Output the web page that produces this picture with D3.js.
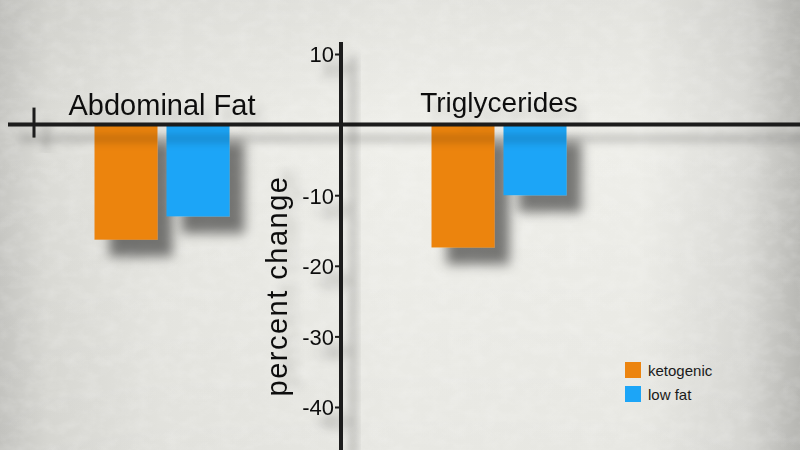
<!DOCTYPE html>
<html>
<head>
<meta charset="utf-8">
<script src="https://cdn.jsdelivr.net/npm/d3@7"></script>
<style>
  body { margin: 0; overflow: hidden; }
  svg { display: block; font-family: "Liberation Sans", Arial, sans-serif; }
</style>
</head>
<body>
<div id="chart"></div>
<script>
// Data
var categories = ["Abdominal Fat", "Triglycerides"];
var series = ["ketogenic", "low fat"];
var ketogenic = [-16.3, -17.4];
var lowFat = [-13.0, -10.0];
var yTicks = [10, -10, -20, -30, -40];
var colors = ["#ec840f", "#1ca5f7"];

var width = 800;
var height = 450;

var svg = d3.select("#chart")
    .append("svg")
    .attr("width", width)
    .attr("height", height);

var defs = svg.append("defs");

// background gradient
var bg = defs.append("linearGradient").attr("id", "bgGrad");
[[0, "#c8c8c4"], [0.06, "#dcdcd7"], [0.2, "#e8e8e3"], [0.5, "#efefea"],
 [0.8, "#eeeee9"], [0.93, "#dcdcd8"], [1, "#bbbbb7"]].forEach(function(s){
    bg.append("stop").attr("offset", s[0]).attr("stop-color", s[1]);
});
var vg = defs.append("linearGradient").attr("id", "vGrad")
    .attr("x1", 0).attr("y1", 0).attr("x2", 0).attr("y2", 1);
vg.append("stop").attr("offset", 0).attr("stop-color", "#000").attr("stop-opacity", 0.05);
vg.append("stop").attr("offset", 0.3).attr("stop-color", "#000").attr("stop-opacity", 0);
vg.append("stop").attr("offset", 1).attr("stop-color", "#000").attr("stop-opacity", 0.03);

// paper texture
var tex = defs.append("filter").attr("id", "tex");
tex.append("feTurbulence").attr("type", "fractalNoise")
    .attr("baseFrequency", "0.06 0.09").attr("numOctaves", 3).attr("seed", 4);
tex.append("feColorMatrix").attr("type", "matrix")
    .attr("values", "0 0 0 0 1  0 0 0 0 1  0 0 0 0 1  0 0 0 -1.2 0.75");

// drop shadows
function shadow(id, dx, dy, sd, op) {
    var f = defs.append("filter").attr("id", id)
        .attr("x", "-50%").attr("y", "-50%").attr("width", "200%").attr("height", "200%");
    f.append("feDropShadow").attr("dx", dx).attr("dy", dy)
        .attr("stdDeviation", sd).attr("flood-color", "#000").attr("flood-opacity", op);
}
shadow("barShadow", 15, 17, 6, 0.5);
shadow("lineShadow", 12, 14, 5, 0.35);
shadow("textShadow", 8, 10, 4, 0.15);

svg.append("rect").attr("width", width).attr("height", height).attr("fill", "url(#bgGrad)");
svg.append("rect").attr("width", width).attr("height", height).attr("fill", "url(#vGrad)");
svg.append("rect").attr("width", width).attr("height", height)
    .attr("filter", "url(#tex)").attr("opacity", 0.25);

// scales
var y = d3.scaleLinear().domain([-40, 10]).range([407, 54]);
var xGroup = d3.scalePoint().domain(categories).range([162, 499]);
var xInner = d3.scaleBand().domain(series).range([-67.5, 67.5]).paddingInner(0.125);
var color = d3.scaleOrdinal().domain(series).range(colors);

var rows = categories.map(function(c, i){
    return { cat: c, values: [
        { s: series[0], v: ketogenic[i] },
        { s: series[1], v: lowFat[i] }
    ]};
});

var axisX = 341;

// bars
var groups = svg.selectAll("g.grp").data(rows).enter().append("g")
    .attr("class", "grp")
    .attr("transform", function(d){ return "translate(" + xGroup(d.cat) + ",0)"; });

groups.selectAll("rect").data(function(d){ return d.values; }).enter().append("rect")
    .attr("x", function(d){ return xInner(d.s); })
    .attr("width", xInner.bandwidth())
    .attr("y", function(d){ return y(Math.max(0, d.v)); })
    .attr("height", function(d){ return Math.abs(y(d.v) - y(0)); })
    .attr("fill", function(d){ return color(d.s); })
    .attr("filter", "url(#barShadow)");

// category labels
groups.append("text")
    .attr("x", 0)
    .attr("y", function(d, i){ return i === 0 ? y(0) - 10 : y(0) - 13; })
    .attr("text-anchor", "middle")
    .attr("font-size", function(d, i){ return i === 0 ? 29 : 28; })
    .attr("fill", "#111")
    .attr("filter", "url(#textShadow)")
    .text(function(d){ return d.cat; });

// horizontal zero line
var lines = svg.append("g").attr("filter", "url(#lineShadow)");
lines.append("line")
    .attr("x1", 8).attr("x2", width)
    .attr("y1", y(0)).attr("y2", y(0))
    .attr("stroke", "#1c1c1a").attr("stroke-width", 4);
lines.append("line")
    .attr("x1", 34).attr("x2", 34)
    .attr("y1", y(0) - 17).attr("y2", y(0) + 13)
    .attr("stroke", "#1c1c1a").attr("stroke-width", 3);

// y axis
var yAxis = d3.axisLeft(y).tickValues(yTicks).tickSize(6).tickPadding(1)
    .tickFormat(function(d){ return String(d); });
var gy = svg.append("g")
    .attr("transform", "translate(" + axisX + ",0)")
    .attr("filter", "url(#lineShadow)")
    .call(yAxis);
gy.select(".domain").remove();
gy.selectAll(".tick line").attr("stroke", "#1c1c1a").attr("stroke-width", 2);
gy.selectAll(".tick text")
    .attr("font-size", 22)
    .attr("font-family", "'Liberation Sans', Arial, sans-serif")
    .attr("fill", "#111")
    .attr("dy", "0.36em");
gy.append("line")
    .attr("x1", 0).attr("x2", 0)
    .attr("y1", 42).attr("y2", height)
    .attr("stroke", "#1c1c1a").attr("stroke-width", 4);

// y axis title
svg.append("text")
    .attr("transform", "translate(287," + 286 + ") rotate(-90)")
    .attr("text-anchor", "middle")
    .attr("font-size", 29)
    .attr("letter-spacing", 1.5)
    .attr("fill", "#111")
    .attr("filter", "url(#textShadow)")
    .text("percent change");

// legend
var legend = svg.append("g").attr("transform", "translate(625,362)");
var li = legend.selectAll("g").data(series).enter().append("g")
    .attr("transform", function(d, i){ return "translate(0," + (i * 24) + ")"; });
li.append("rect").attr("width", 16).attr("height", 16)
    .attr("fill", function(d){ return color(d); });
li.append("text").attr("x", 23).attr("y", 14)
    .attr("font-size", 15).attr("fill", "#1a1a1a")
    .text(function(d){ return d; });
</script>
</body>
</html>
